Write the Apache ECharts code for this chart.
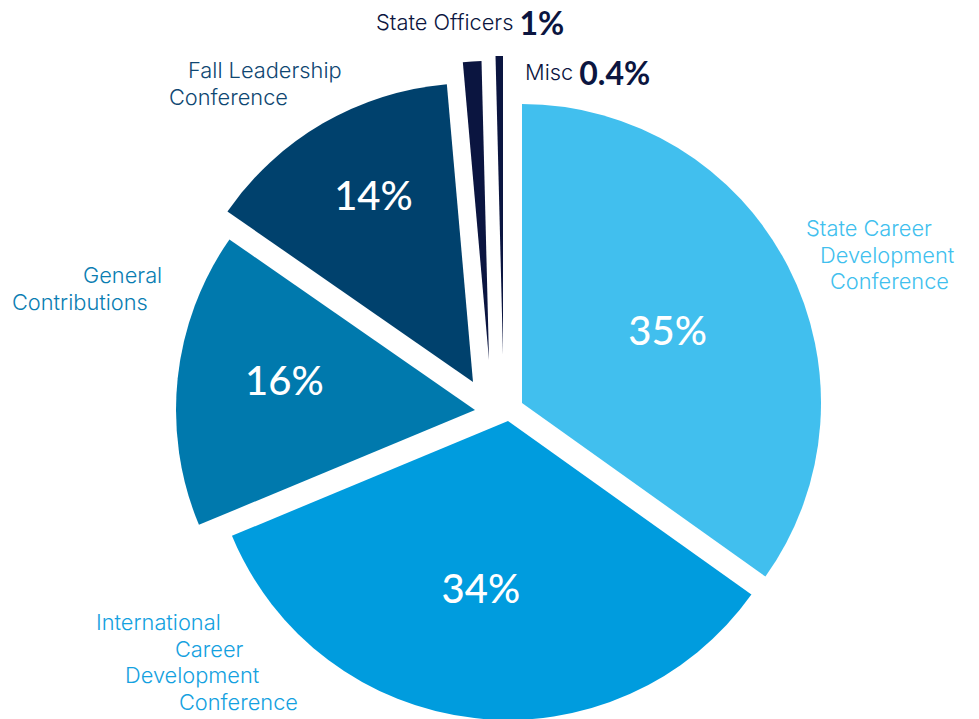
<!DOCTYPE html>
<html>
<head>
<meta charset="utf-8">
<title>Revenue sources</title>
<script src="https://cdn.jsdelivr.net/npm/echarts@6/dist/echarts.min.js"></script>
<style>
    html, body { margin: 0; padding: 0; background: #ffffff; }
    #chart { width: 979px; height: 719px; }
</style>
</head>
<body>
<div id="chart"></div>
<script>
var categories = ["State Career Development Conference", "International Career Development Conference",
    "General Contributions", "Fall Leadership Conference", "State Officers", "Misc"];
var shares = [35, 34, 16, 14, 1, 0.4];
var nameLines = [
    ["State Career", "Development", "Conference"],
    ["International", "Career", "Development", "Conference"],
    ["General", "Contributions"],
    ["Fall Leadership", "Conference"],
    ["State Officers"],
    ["Misc"]
];

var colors = ["#41BFEE", "#009CDE", "#0079AD", "#00416D", "#0B1540", "#0B1540"];
var nameColors = ["#41BFEE", "#14A1E0", "#0A7DB2", "#0F4772", "#0B1540", "#0B1540"];
var fontFamily = "Lato, 'Noto Sans', sans-serif";
var nameFont = "Inter, Lato, sans-serif";
var R = 299;

// every slice is pulled out by hand in the picture, so each one gets its own centre
var sliceCenters = [[522, 403], [508, 421], [475, 410], [473, 382], [489, 360], [503, 355]];
// percent labels sit a bit away from the half radius point
var pctShift = [[10, -3], [-10, 15], [-39, -14], [-23, -55], [0, 0], [0, 0]];
// name blocks: left, top, indent of each line
var namePos = [
    {x: 806, y: 215, indent: [0, 14, 24]},
    {x: 96, y: 609, indent: [0, 79, 29, 83]},
    {x: 12, y: 262, indent: [71, 0]},
    {x: 169, y: 57, indent: [19, 0]},
    {x: 376, y: 5, indent: [0]},
    {x: 525, y: 55, indent: [0]}
];

function buildSliceSeries(i) {
    var data = [];
    for (var j = 0; j < shares.length; j++) {
        var item = {name: categories[j], value: shares[j], labelLine: {show: false}};
        if (j == i) {
            item.itemStyle = {color: colors[j]};
            item.label = {
                show: j < 4,
                position: "inside",
                formatter: shares[j] + "%",
                color: "#ffffff",
                fontFamily: fontFamily,
                fontSize: 40,
                fontWeight: 500
            };
        } else {
            item.itemStyle = {color: "rgba(0,0,0,0)"};
            item.label = {show: false};
        }
        data.push(item);
    }
    return {
        type: "pie",
        center: sliceCenters[i],
        radius: [0, R],
        startAngle: 90,
        clockwise: true,
        avoidLabelOverlap: false,
        silent: true,
        itemStyle: {borderWidth: 0},
        labelLayout: {dx: pctShift[i][0], dy: pctShift[i][1]},
        data: data
    };
}

function buildNameLabel(j) {
    var rich = {};
    var parts = [];
    var lines = nameLines[j];
    for (var k = 0; k < lines.length; k++) {
        rich["l" + k] = {
            padding: [0, 0, 0, namePos[j].indent[k]],
            fontSize: 21.8,
            lineHeight: 26.5,
            fontWeight: 300,
            fontFamily: nameFont,
            color: nameColors[j]
        };
        parts.push("{l" + k + "|" + lines[k] + "}");
    }
    var text = parts.join("\n");
    if (j >= 4) {
        rich.b = {fontSize: 32, fontWeight: 700, lineHeight: 34, fontFamily: fontFamily, color: nameColors[j]};
        rich.l0.lineHeight = 34;
        text = text + "{s| }{b|" + shares[j] + "%}";
        rich.s = {fontSize: 21.8, lineHeight: 34, fontFamily: nameFont};
    }
    return {show: true, position: "outside", formatter: text, rich: rich};
}

var nameData = [];
for (var j = 0; j < shares.length; j++) {
    nameData.push({
        name: categories[j],
        value: shares[j],
        itemStyle: {color: "rgba(0,0,0,0)"},
        label: buildNameLabel(j),
        labelLine: {show: false}
    });
}

var series = [];
for (var i = 0; i < shares.length; i++) {
    series.push(buildSliceSeries(i));
}
series.push({
    type: "pie",
    center: [500, 414],
    radius: [0, R],
    startAngle: 90,
    clockwise: true,
    avoidLabelOverlap: false,
    silent: true,
    z: 5,
    itemStyle: {borderWidth: 0},
    labelLine: {show: false},
    labelLayout: function (params) {
        var p = namePos[params.dataIndex];
        return {x: p.x, y: p.y, align: "left", verticalAlign: "top"};
    },
    data: nameData
});

var chart = echarts.init(document.getElementById("chart"), null, {renderer: "svg"});
chart.setOption({
    animation: false,
    backgroundColor: "#ffffff",
    series: series
});
</script>
</body>
</html>
